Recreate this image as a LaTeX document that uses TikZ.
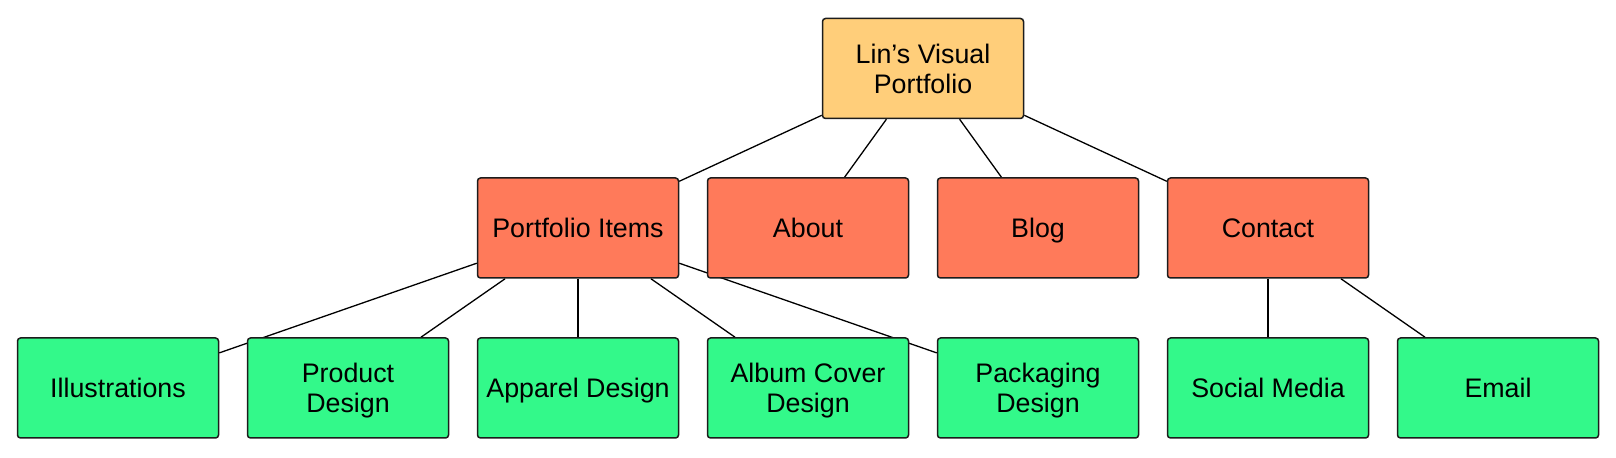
\documentclass[tikz,border=0pt]{standalone}
\usepackage{fontspec}
\setmainfont{Liberation Sans}
\usepackage{xcolor}
\usetikzlibrary{backgrounds}
\definecolor{siteroot}{HTML}{FFCE7A}
\definecolor{sitemid}{HTML}{FF7A5A}
\definecolor{siteleaf}{HTML}{33F98A}
\definecolor{siteline}{HTML}{1C1C1C}

\begin{document}
\begin{tikzpicture}[x=0.5pt, y=-0.5pt,
	page/.style={draw=siteline, line width=0.75pt, rounded corners=1.5pt, minimum width=100.5pt, minimum height=50pt, inner sep=1pt, align=center, text depth=-1.8pt, font=\fontsize{13.4}{15}\selectfont},
	oneline/.style={text height=9.6pt},
	rootpage/.style={page, fill=siteroot},
	midpage/.style={page, oneline, fill=sitemid},
	leafpage/.style={page, fill=siteleaf},
	link/.style={draw=black, line width=0.65pt}]
	\useasboundingbox (0,0) rectangle (1616,458);
	\node[rootpage] (lin) at (923,68.5) {Lin’s Visual\\Portfolio};
	\node[midpage] (items) at (578,228) {Portfolio Items};
	\node[midpage] (about) at (808,228) {About};
	\node[midpage] (blog) at (1038,228) {Blog};
	\node[midpage] (contact) at (1268,228) {Contact};
	\node[leafpage, oneline] (illus) at (118,388) {Illustrations};
	\node[leafpage] (product) at (348,388) {Product\\Design};
	\node[leafpage, oneline] (apparel) at (578,388) {Apparel Design};
	\node[leafpage] (album) at (808,388) {Album Cover\\Design};
	\node[leafpage] (packaging) at (1038,388) {Packaging\\Design};
	\node[leafpage, oneline] (social) at (1268,388) {Social Media};
	\node[leafpage, oneline] (email) at (1498,388) {Email};
	\begin{pgfonlayer}{background}
		\draw[link] (lin) -- (items);
		\draw[link] (lin) -- (about);
		\draw[link] (lin) -- (blog);
		\draw[link] (lin) -- (contact);
		\draw[link] (items) -- (illus);
		\draw[link] (items) -- (product);
		\draw[link] (items) -- (apparel);
		\draw[link] (items) -- (album);
		\draw[link] (items) -- (packaging);
		\draw[link] (contact) -- (social);
		\draw[link] (contact) -- (email);
	\end{pgfonlayer}
\end{tikzpicture}
\end{document}
